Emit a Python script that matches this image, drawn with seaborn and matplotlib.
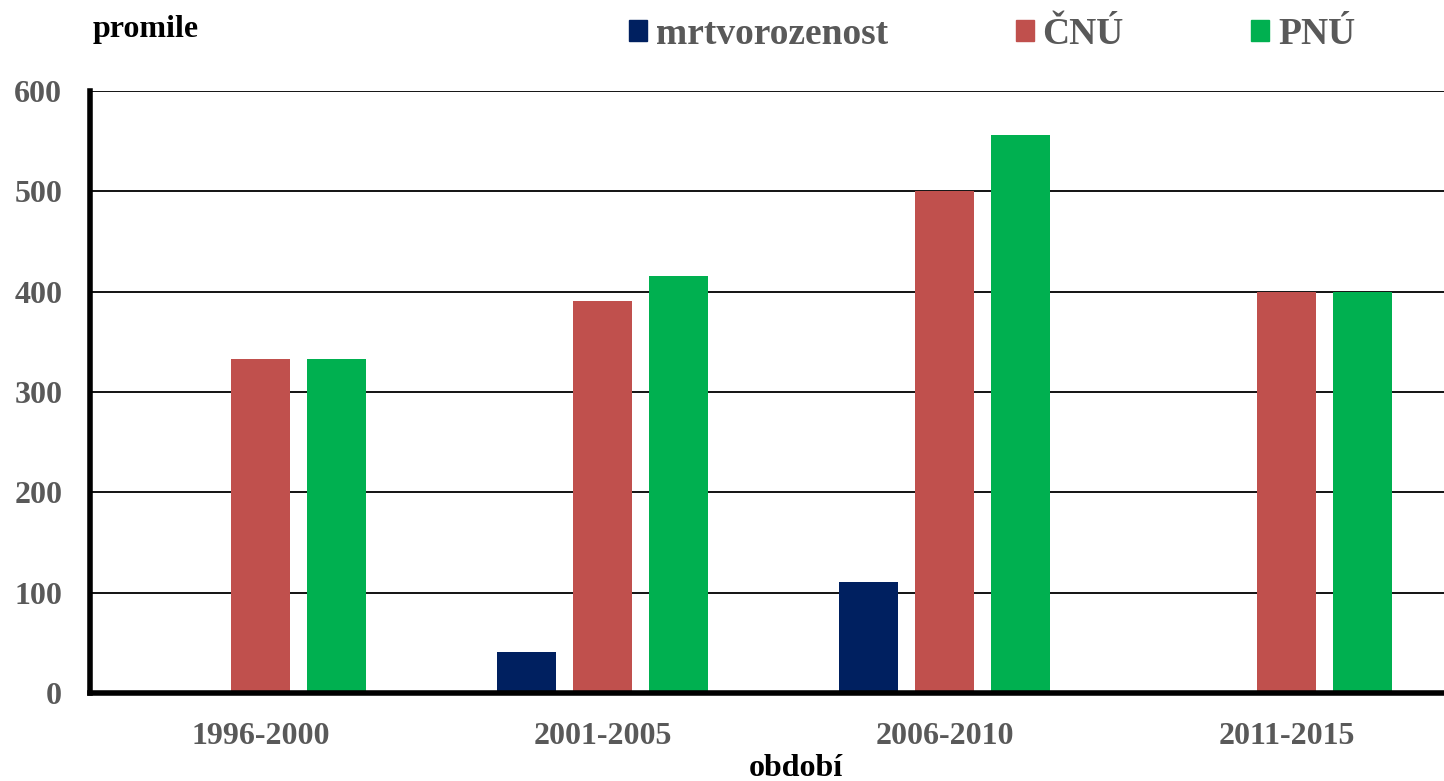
import matplotlib
matplotlib.use("Agg")
import matplotlib.pyplot as plt
import matplotlib.patches as mpatches
import seaborn as sns
import pandas as pd

periods = ["1996-2000", "2001-2005", "2006-2010", "2011-2015"]
series = ["mrtvorozenost", "ČNÚ", "PNÚ"]
mrtvorozenost = [0, 41, 111, 0]
cnu = [333, 391, 500, 400]
pnu = [333, 416, 556, 400]
colors = ["#002060", "#C0504D", "#00B050"]
yticks = [0, 100, 200, 300, 400, 500, 600]

rows = []
for name, vals in zip(series, [mrtvorozenost, cnu, pnu]):
    for p, v in zip(periods, vals):
        rows.append({"období": p, "série": name, "hodnota": v})
df = pd.DataFrame(rows)

sns.set_style("white")
plt.rcParams["font.family"] = ["Liberation Serif", "DejaVu Serif"]
plt.rcParams["font.weight"] = "bold"

W, H = 1444, 781
fig = plt.figure(figsize=(W / 100, H / 100), dpi=100)
ax = fig.add_axes([90 / W, 1 - 693 / H, (1444 - 90) / W, (693 - 91) / H])

sns.barplot(data=df, x="období", y="hodnota", hue="série", order=periods,
            hue_order=series, palette=colors, width=0.666, gap=0.223,
            linewidth=0, saturation=1, legend=False, ax=ax, errorbar=None)

ax.set_xlim(-0.5, 3.46)
ax.set_ylim(0, 600)
ax.set_yticks(yticks)
ax.set_yticklabels([str(t) for t in yticks])
ax.yaxis.grid(True, color="black", linewidth=1.3)
ax.xaxis.grid(False)
ax.set_axisbelow(True)
ax.set_xlabel("")
ax.set_ylabel("")

for s in ["top", "right"]:
    ax.spines[s].set_visible(False)
for s in ["left", "bottom"]:
    ax.spines[s].set_visible(True)
    ax.spines[s].set_color("black")
    ax.spines[s].set_linewidth(4)

ax.tick_params(axis="both", length=0, labelsize=23, labelcolor="#595959")
ax.tick_params(axis="y", pad=20)
ax.tick_params(axis="x", pad=21)
for lbl in ax.get_xticklabels() + ax.get_yticklabels():
    lbl.set_fontweight("bold")

fig.text(93 / W, 1 - 29 / H, "promile", fontsize=23, fontweight="bold",
         color="black", ha="left", va="center")
fig.text(796 / W, 1 - 768 / H, "období", fontsize=23, fontweight="bold",
         color="black", ha="center", va="center")

handles = [mpatches.Patch(color=c, label=n) for c, n in zip(colors, series)]
leg = fig.legend(handles=handles, ncol=3, loc="center left",
                 bbox_to_anchor=(614 / W, 1 - 34 / H), frameon=False,
                 fontsize=27, handlelength=0.48, handleheight=0.48,
                 handletextpad=0.24, columnspacing=3.4, borderaxespad=0)
for t in leg.get_texts():
    t.set_color("#595959")
    t.set_fontweight("bold")

fig.savefig("out.png", dpi=100)
